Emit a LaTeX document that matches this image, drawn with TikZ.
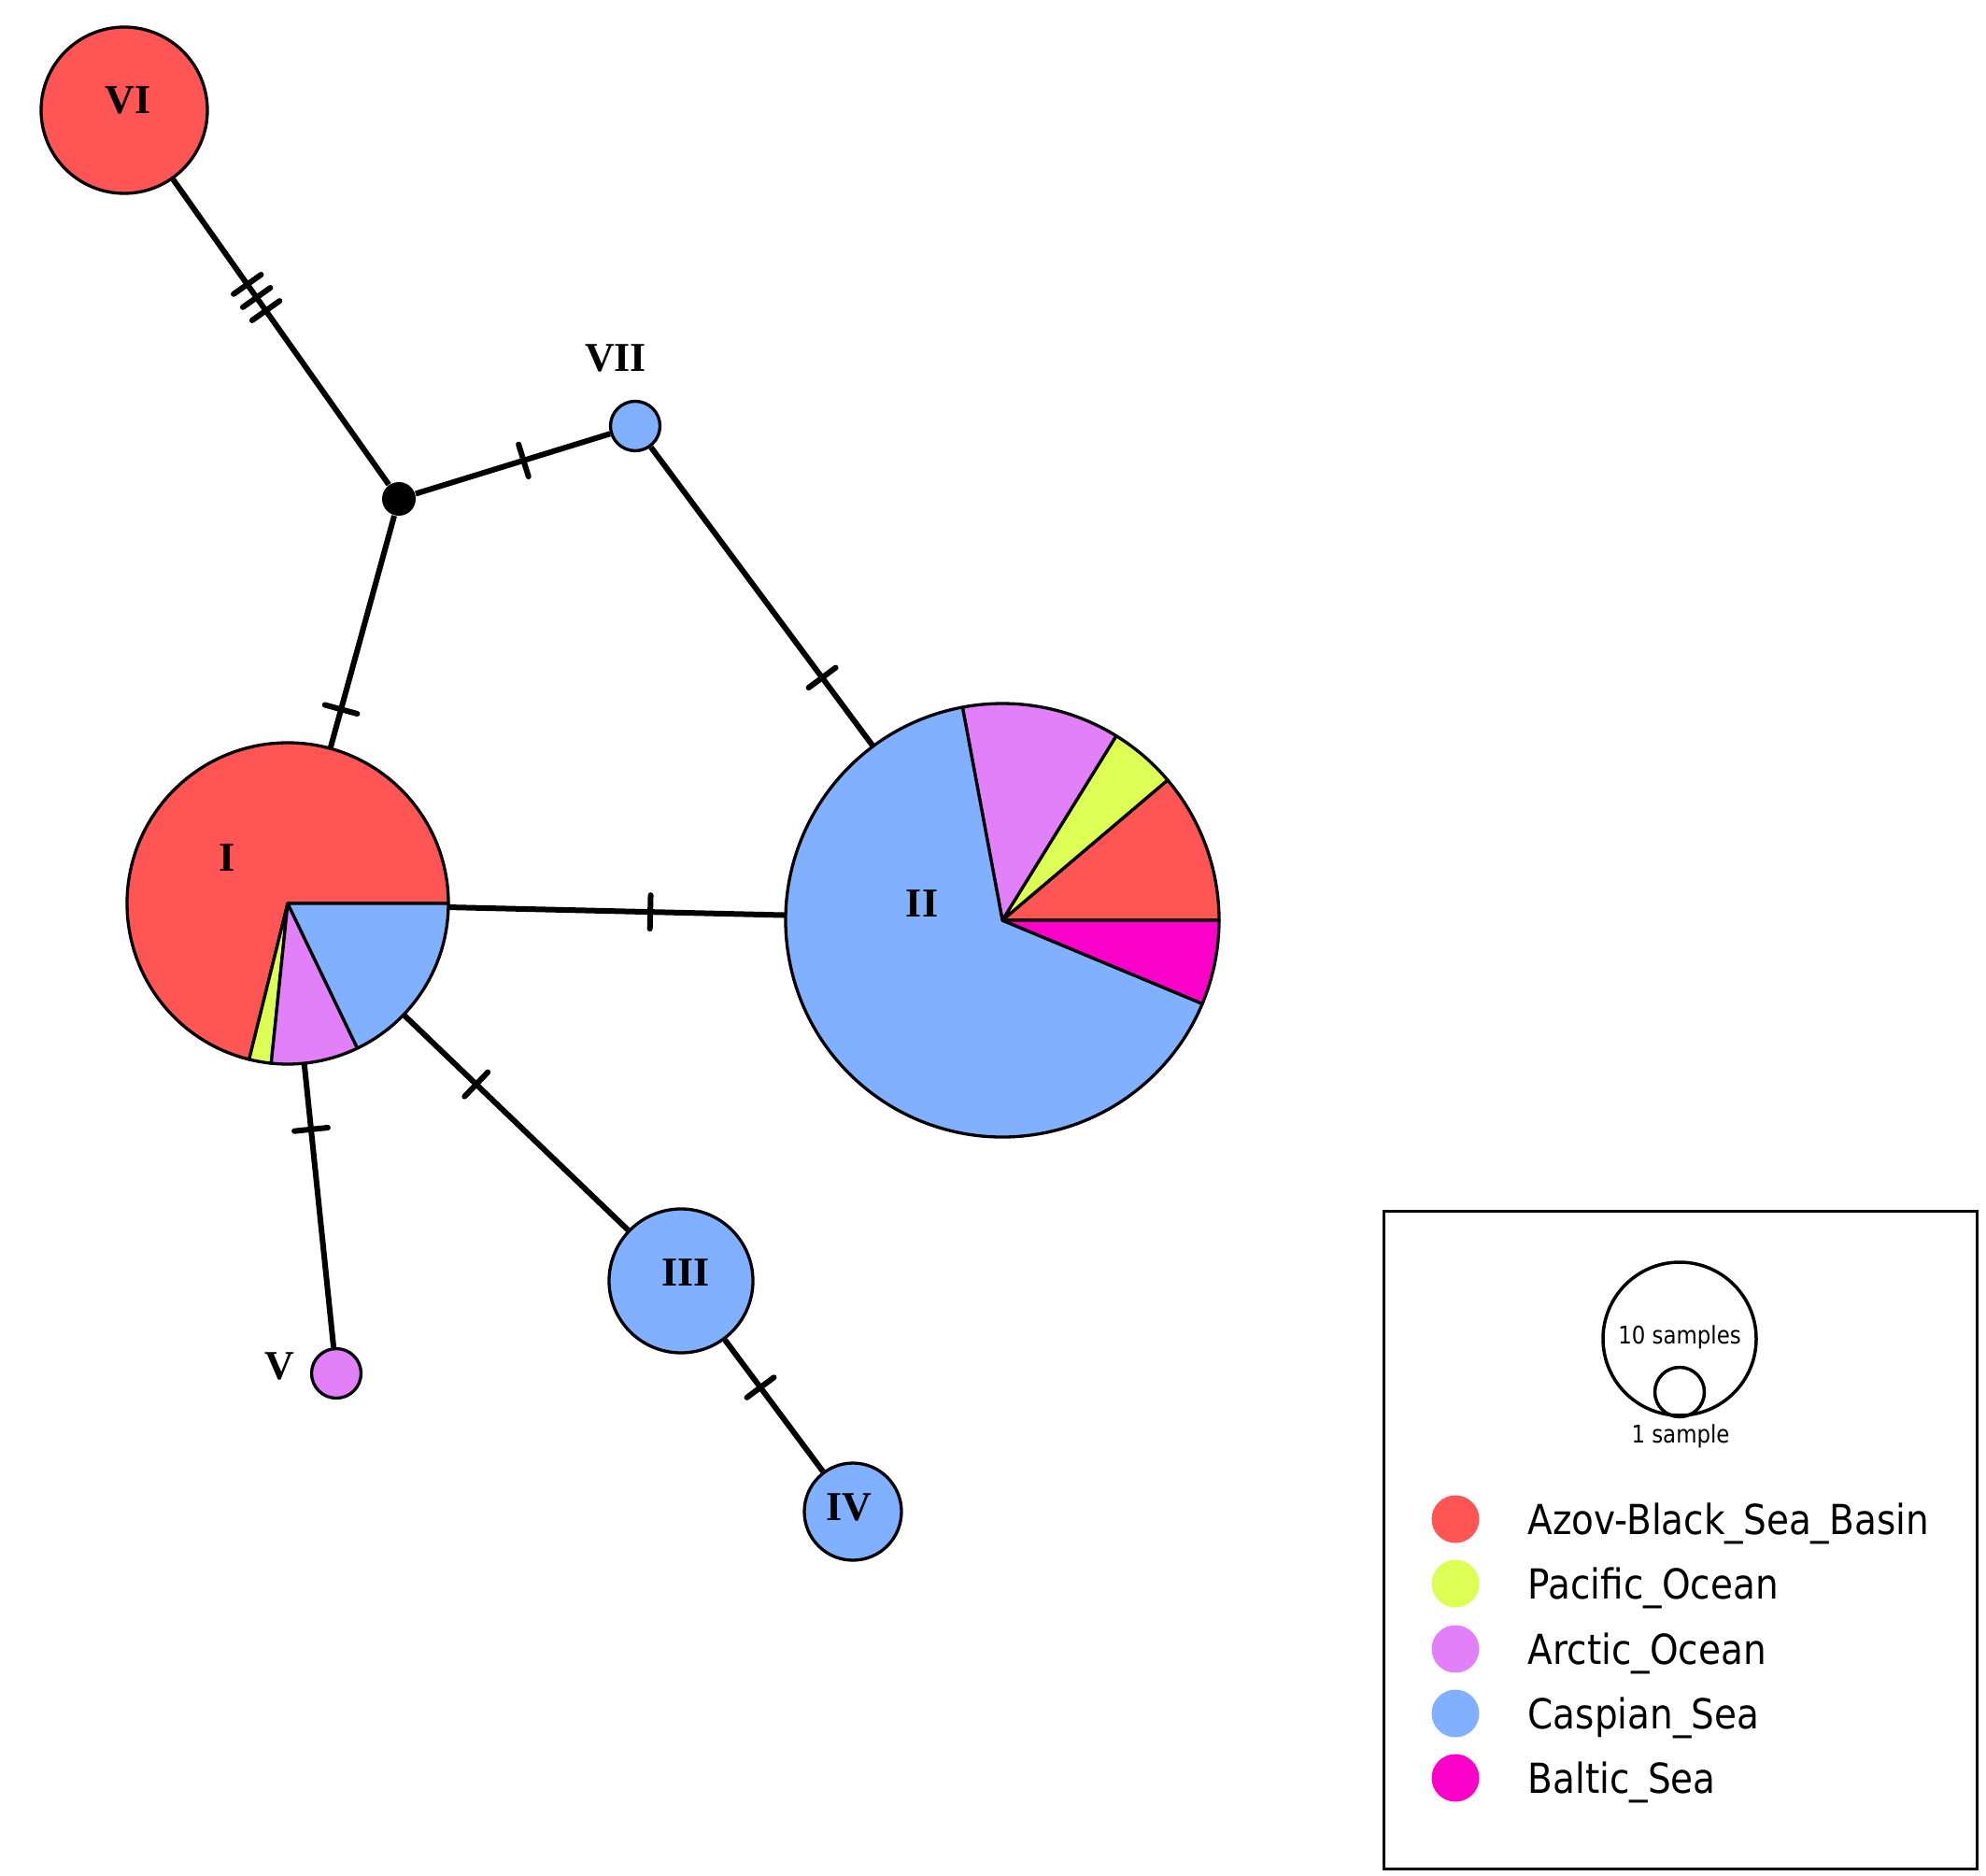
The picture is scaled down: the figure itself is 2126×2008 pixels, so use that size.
\documentclass[tikz,border=0pt]{standalone}
\usepackage{fontspec}
\setmainfont{Liberation Serif}
\newfontfamily\legendfont[FakeStretch=0.88]{DejaVu Sans}
\definecolor{azovred}{RGB}{255,85,85}
\definecolor{pacificgreen}{RGB}{221,255,85}
\definecolor{arcticviolet}{RGB}{226,128,250}
\definecolor{caspianblue}{RGB}{128,176,255}
\definecolor{balticpink}{RGB}{250,0,200}

\begin{document}
\begin{tikzpicture}[x=0.1mm, y=-0.1mm,
        hap/.style={circle, draw, line width=0.33mm, inner sep=0pt},
        pie/.style={circle, inner sep=0pt},
        median/.style={circle, fill=black, inner sep=0pt, minimum size=3.6mm},
        edge/.style={line width=0.6mm},
        tick/.style={sloped, draw, line width=0.6mm, line join=round, minimum width=0pt, minimum height=3.6mm, inner sep=0pt, outer sep=0pt},
        slice/.style={draw, line width=0.33mm, line join=round},
        hlabel/.style={font=\bfseries\fontsize{12.5}{14}\selectfont, inner sep=0pt},
        ltext/.style={font=\legendfont\fontsize{12.6}{15}\selectfont, anchor=base west, inner sep=0pt},
        lsmall/.style={font=\legendfont\fontsize{7.4}{9}\selectfont, inner sep=0pt},
        ldot/.style={circle, inner sep=0pt, minimum size=5.1mm}]
        \useasboundingbox (0,0) rectangle (2126,2008);

        % Haplotypes
        \node[hap, fill=azovred, minimum size=17.8mm] (VI) at (133,118) {};
        \node[median] (mv) at (427,534) {};
        \node[hap, fill=caspianblue, minimum size=5.3mm] (VII) at (680,456) {};
        \node[pie, minimum size=34.4mm] (I) at (308,967) {};
        \node[pie, minimum size=46.4mm] (II) at (1073,985) {};
        \node[hap, fill=caspianblue, minimum size=15.4mm] (III) at (729,1371) {};
        \node[hap, fill=caspianblue, minimum size=10.4mm] (IV) at (913,1618) {};
        \node[hap, fill=arcticviolet, minimum size=5.3mm] (V) at (360,1470) {};

        % Mutation steps
        \draw[edge] (VI) -- node[tick, pos=.344] {} node[tick, pos=.387] {} node[tick, pos=.430] {} (mv);
        \draw[edge] (mv) -- node[tick, pos=.555] {} (VII);
        \draw[edge] (mv) -- node[tick, pos=.834] {} (I);
        \draw[edge] (VII) -- node[tick, pos=.772] {} (II);
        \draw[edge] (I) -- node[tick, pos=.599] {} (II);
        \draw[edge] (I) -- node[tick, pos=.231] {} (V);
        \draw[edge] (I) -- node[tick, pos=.322] {} (III);
        \draw[edge] (III) -- node[tick, pos=.362] {} (IV);

        % Pie I
        \filldraw[slice, fill=azovred] (I.center) -- ++(0:17.2mm) arc[start angle=0, end angle=256.1, radius=17.2mm] -- cycle;
        \filldraw[slice, fill=pacificgreen] (I.center) -- ++(256.1:17.2mm) arc[start angle=256.1, end angle=264.1, radius=17.2mm] -- cycle;
        \filldraw[slice, fill=arcticviolet] (I.center) -- ++(264.1:17.2mm) arc[start angle=264.1, end angle=295.7, radius=17.2mm] -- cycle;
        \filldraw[slice, fill=caspianblue] (I.center) -- ++(295.7:17.2mm) arc[start angle=295.7, end angle=360, radius=17.2mm] -- cycle;

        % Pie II
        \filldraw[slice, fill=azovred] (II.center) -- ++(0:23.2mm) arc[start angle=0, end angle=40.3, radius=23.2mm] -- cycle;
        \filldraw[slice, fill=pacificgreen] (II.center) -- ++(40.3:23.2mm) arc[start angle=40.3, end angle=58.3, radius=23.2mm] -- cycle;
        \filldraw[slice, fill=arcticviolet] (II.center) -- ++(58.3:23.2mm) arc[start angle=58.3, end angle=100.6, radius=23.2mm] -- cycle;
        \filldraw[slice, fill=caspianblue] (II.center) -- ++(100.6:23.2mm) arc[start angle=100.6, end angle=337.35, radius=23.2mm] -- cycle;
        \filldraw[slice, fill=balticpink] (II.center) -- ++(337.35:23.2mm) arc[start angle=337.35, end angle=360, radius=23.2mm] -- cycle;

        % Labels
        \node[hlabel] (labVI) at (137,107) {VI};
        \node[hlabel] (labVII) at (659,383) {VII};
        \node[hlabel] (labI) at (243,918) {I};
        \node[hlabel] (labII) at (987,967) {II};
        \node[hlabel] (labIII) at (734,1362) {III};
        \node[hlabel] (labIV) at (909,1613) {IV};
        \node[hlabel] (labV) at (299,1462) {V};

        % Legend
        \draw[line width=0.3mm] (1481,1296) rectangle (2116,2000);
        \node[hap, minimum size=16.4mm, line width=0.35mm] (ten) at (1798,1433) {};
        \node[lsmall] (tenlab) at (1798,1431) {10 samples};
        \node[hap, minimum size=5.3mm, line width=0.35mm] (one) at (1798,1490) {};
        \node[lsmall] (onelab) at (1799,1537) {1 sample};

        \node[ldot, fill=azovred] (dAzov) at (1558,1626) {};
        \node[ldot, fill=pacificgreen] (dPacific) at (1558,1695) {};
        \node[ldot, fill=arcticviolet] (dArctic) at (1558,1765) {};
        \node[ldot, fill=caspianblue] (dCaspian) at (1558,1834) {};
        \node[ldot, fill=balticpink] (dBaltic) at (1558,1903) {};
        \node[ltext] (tAzov) at (1635,1642) {Azov-Black\_Sea\_Basin};
        \node[ltext] (tPacific) at (1635,1711) {Pacific\_Ocean};
        \node[ltext] (tArctic) at (1635,1781) {Arctic\_Ocean};
        \node[ltext] (tCaspian) at (1635,1850) {Caspian\_Sea};
        \node[ltext] (tBaltic) at (1635,1919) {Baltic\_Sea};
    \end{tikzpicture}
\end{document}
